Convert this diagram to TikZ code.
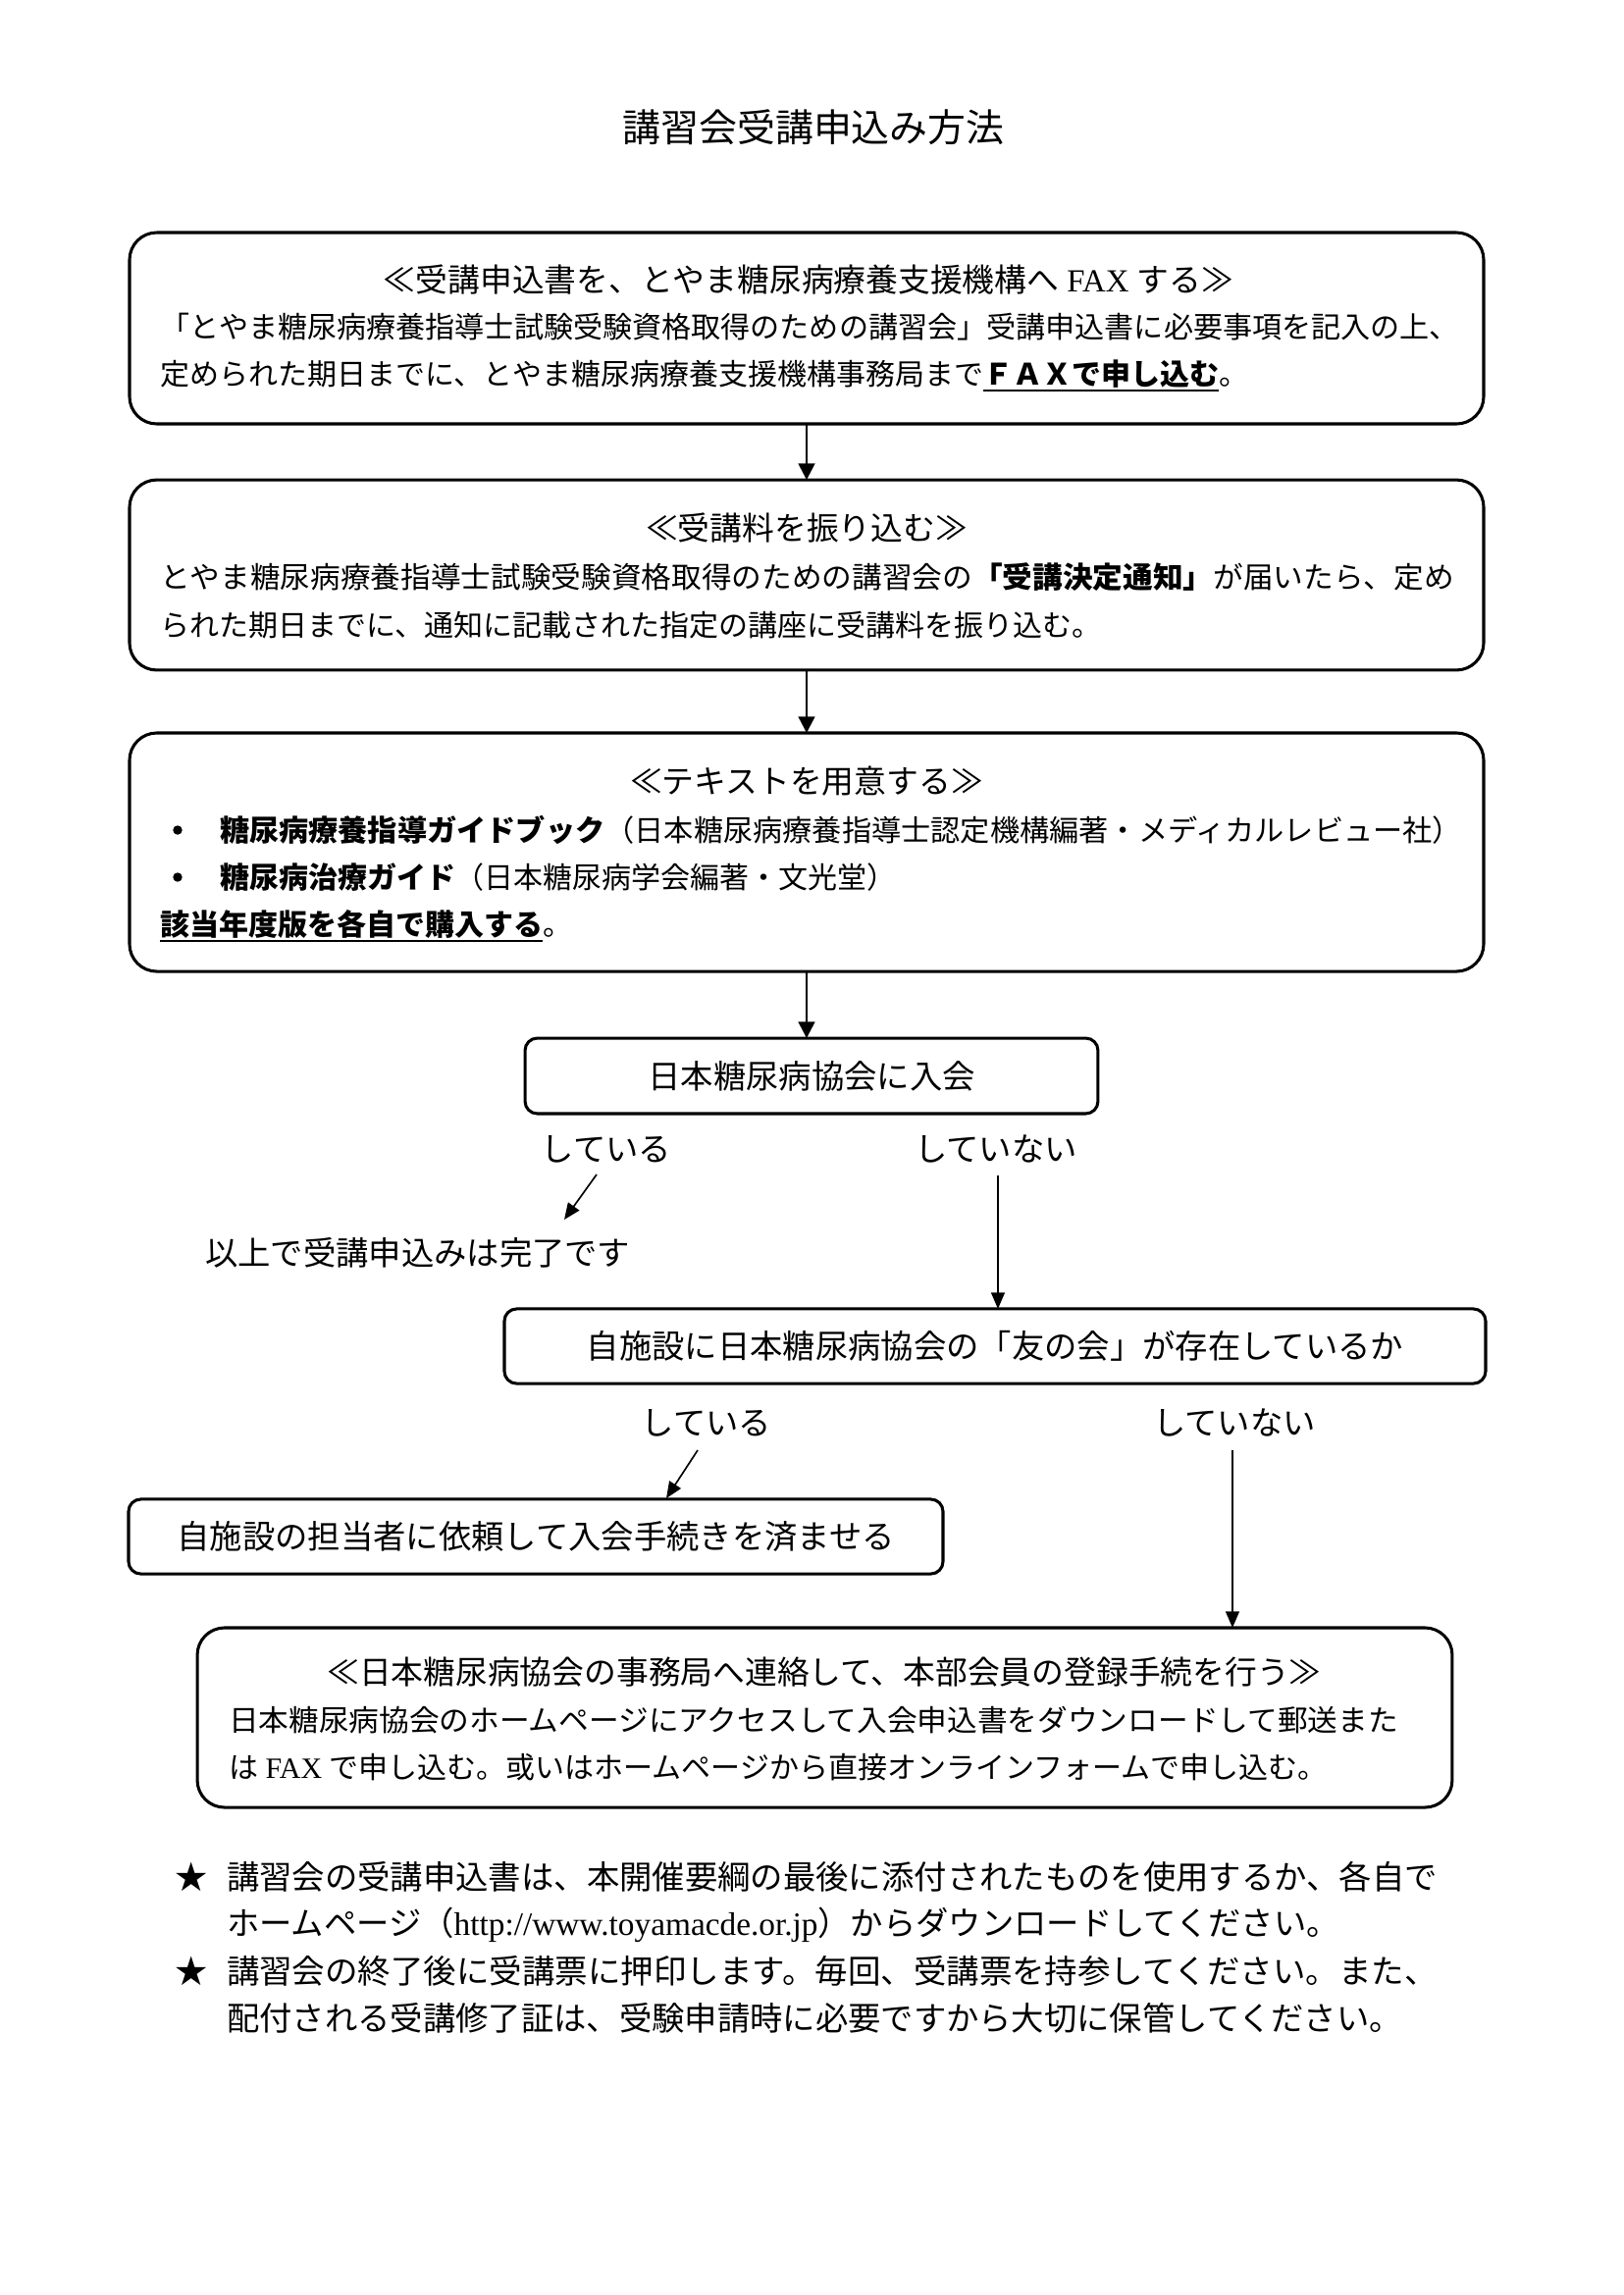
\documentclass[tikz,border=0pt]{standalone}
\usepackage{fontspec}
\usepackage{graphicx}
\setmainfont{Liberation Serif}
\newfontfamily\jp{Noto Sans CJK JP}
\newfontfamily\tm{Liberation Serif}
\usetikzlibrary{arrows.meta}
\newcommand\fitw[2]{\resizebox{#1}{\height}{#2}}
\newcommand\myul[1]{\setbox0\hbox{#1}\rlap{\rule[-2.5pt]{\wd0}{0.7pt}}\box0}
\begin{document}
\begin{tikzpicture}[x=0.36pt,y=-0.36pt,
 every node/.style={inner sep=0pt, outer sep=0pt},
 t11/.style={font=\jp\fontsize{10.8}{13}\selectfont, text height=9.5pt, text depth=1.3pt},
 thd/.style={font=\jp\fontsize{11.8}{14}\selectfont, text height=10.4pt, text depth=1.4pt},
 t12/.style={font=\jp\fontsize{12}{14}\selectfont, text height=10.6pt, text depth=1.4pt},
 t14/.style={font=\jp\fontsize{14}{17}\selectfont, text height=12.3pt, text depth=1.7pt},
 bx/.style={draw, line width=1.1pt, rounded corners=10pt},
 sbx/.style={draw, line width=1.1pt, rounded corners=4.5pt},
 dot/.style={circle, fill, minimum size=3.4pt},
 arr/.style={line width=0.9pt, -{Triangle[length=6pt,width=6pt]}},
 barr/.style={line width=0.6pt, -{Triangle[length=6pt,width=5pt]}},
]
\useasboundingbox (0,0) rectangle (1654,2339);

% title
\node[t14] (title) at (829,130) {講習会受講申込み方法};

% box 1
\node[bx, minimum width=496.8pt, minimum height=70.2pt] (b1) at (822,334.5) {};
\node[thd] (b1h) at (824,285) {≪受講申込書を、とやま糖尿病療養支援機構へ{\tm\ FAX\ }する≫};
\node[t11, anchor=west] (b1l2) at (163,333) {\fitw{476.6pt}{「とやま糖尿病療養指導士試験受験資格取得のための講習会」受講申込書に必要事項を記入の上、}};
\node[t11, anchor=west] (b1l3) at (163,381) {定められた期日までに、とやま糖尿病療養支援機構事務局まで\myul{\bfseries ＦＡＸで申し込む}。};

% box 2
\node[bx, minimum width=496.8pt, minimum height=69.8pt] (b2) at (822,586) {};
\node[thd] (b2h) at (822,538) {≪受講料を振り込む≫};
\node[t11, anchor=west] (b2l2) at (163,588) {\fitw{474.8pt}{とやま糖尿病療養指導士試験受験資格取得のための講習会の{\bfseries 「受講決定通知」}が届いたら、定め}};
\node[t11, anchor=west] (b2l3) at (163,637) {られた期日までに、通知に記載された指定の講座に受講料を振り込む。};

% box 3
\node[bx, minimum width=496.8pt, minimum height=87.5pt] (b3) at (822,868.5) {};
\node[thd] (b3h) at (822,796) {≪テキストを用意する≫};
\node[dot] (b3d1) at (181,846) {};
\node[t11, anchor=west] (b3l2) at (224,846) {\fitw{455.8pt}{{\bfseries 糖尿病療養指導ガイドブック}（日本糖尿病療養指導士認定機構編著・メディカルレビュー社）}};
\node[dot] (b3d2) at (181,894) {};
\node[t11, anchor=west] (b3l3) at (224,894) {{\bfseries 糖尿病治療ガイド}（日本糖尿病学会編著・文光堂）};
\node[t11, anchor=west] (b3l4) at (163,942) {\myul{\bfseries 該当年度版を各自で購入する}。};

% box 4
\node[sbx, t12, minimum width=210.2pt, minimum height=27.7pt] (b4) at (827,1096.5) {日本糖尿病協会に入会};

\node[t12] (y1) at (618,1171) {している};
\node[t12] (no1) at (1015,1171) {していない};
\node[t12, anchor=west] (done) at (209,1277) {以上で受講申込みは完了です};

% box 5
\node[sbx, t12, minimum width=360pt, minimum height=27.4pt] (b5) at (1014,1372) {自施設に日本糖尿病協会の「友の会」が存在しているか};

\node[t12] (y2) at (720,1450) {している};
\node[t12] (no2) at (1258,1450) {していない};

% box 6
\node[sbx, t12, minimum width=298.8pt, minimum height=27.4pt] (b6) at (546,1566) {自施設の担当者に依頼して入会手続きを済ませる};

% box 7
\node[bx, minimum width=460.4pt, minimum height=65.9pt] (b7) at (840.5,1750.5) {};
\node[thd] (b7h) at (840,1704) {≪日本糖尿病協会の事務局へ連絡して、本部会員の登録手続を行う≫};
\node[t11, anchor=west] (b7l2) at (233,1753) {\fitw{429.1pt}{日本糖尿病協会のホームページにアクセスして入会申込書をダウンロードして郵送また}};
\node[t11, anchor=west] (b7l3) at (233,1801) {は{\tm\ FAX\ }で申し込む。或いはホームページから直接オンラインフォームで申し込む。};

% notes
\node[t12] (s1) at (195,1913) {★};
\node[t12, anchor=west] (note1) at (231,1913) {\fitw{444.2pt}{講習会の受講申込書は、本開催要綱の最後に添付されたものを使用するか、各自で}};
\node[t12, anchor=west] (note2) at (231,1960) {ホームページ（{\tm http://www.toyamacde.or.jp}）からダウンロードしてください。};
\node[t12] (s2) at (195,2009) {★};
\node[t12, anchor=west] (note3) at (231,2009) {\fitw{444.2pt}{講習会の終了後に受講票に押印します。毎回、受講票を持参してください。また、}};
\node[t12, anchor=west] (note4) at (231,2057) {配付される受講修了証は、受験申請時に必要ですから大切に保管してください。};

% connectors
\draw[arr] (b1.south) -- (b2.north);
\draw[arr] (b2.south) -- (b3.north);
\draw[arr] (b3.south) -- (b3.south |- b4.north);

\coordinate (y1s) at (608,1197);
\coordinate (y1e) at (575,1243);
\draw[barr] (y1s) -- (y1e);
\coordinate (no1s) at (1017,1198);
\draw[barr] (no1s) -- (no1s |- b5.north);

\coordinate (y2s) at (711,1478);
\coordinate (y2e) at (679,1527);
\draw[barr] (y2s) -- (y2e);
\coordinate (no2s) at (1256,1478);
\draw[barr] (no2s) -- (no2s |- b7.north);
\end{tikzpicture}
\end{document}
